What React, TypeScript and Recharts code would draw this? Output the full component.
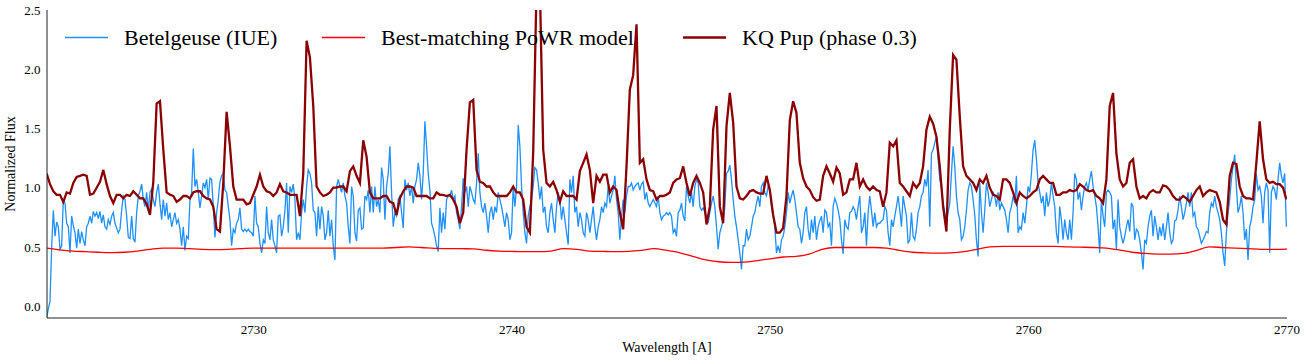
import React from 'react';
import { LineChart, Line, XAxis, YAxis } from 'recharts';

// ---------------- data ----------------
const SERIES_NAMES = ['Betelgeuse (IUE)', 'Best-matching PoWR model', 'KQ Pup (phase 0.3)'];

// Betelgeuse (IUE) spectrum: evenly sampled wavelength grid
const BETELGEUSE_START = 2721.987;
const BETELGEUSE_STEP = 0.0645;
const betelgeuseFlux = [
  -0.1, -0.02, 0.04, 0.5, 0.81, 0.59, 0.71, 0.67, 0.48, 0.51,
  0.9, 0.87, 0.7, 0.67, 0.45, 0.76, 0.68, 0.62, 0.49, 0.65,
  0.53, 0.63, 0.56, 0.51, 0.67, 0.7, 0.76, 0.7, 0.8, 0.76,
  0.79, 0.74, 0.8, 0.7, 0.77, 0.67, 0.65, 0.73, 0.69, 0.76,
  0.79, 0.7, 0.66, 0.62, 0.65, 0.81, 0.93, 0.9, 0.76, 0.58,
  0.57, 0.76, 0.57, 0.54, 0.79, 0.93, 0.97, 1.03, 0.9, 0.84,
  0.96, 0.81, 0.96, 0.99, 0.9, 0.84, 0.96, 1.03, 0.87, 0.73,
  0.9, 0.76, 0.87, 0.73, 0.79, 0.67, 0.73, 0.79, 0.7, 0.73,
  0.65, 0.51, 0.67, 0.47, 0.59, 0.57, 0.9, 0.96, 1.33, 1.01,
  1.07, 0.96,
  0.83, 0.93, 1.04, 1.0, 1.07, 0.9, 1.08, 1.07, 0.84, 0.58,
  0.79, 0.9, 1.05, 1.1, 1.12, 0.98, 0.96, 0.84, 0.73, 0.51,
  0.65, 0.62, 0.7, 0.73, 0.83, 0.65, 0.63, 0.65, 0.63, 0.65,
  0.63, 0.62, 0.59, 0.93, 0.7, 0.67, 0.53, 0.45, 0.56, 0.53,
  0.84, 0.62, 0.56, 0.73, 0.56, 0.51, 0.45, 0.76, 0.77, 0.59,
  0.67, 0.81, 1.04, 0.62, 1.01, 0.96, 1.03, 0.9, 0.56, 0.62,
  0.56, 0.79, 0.9, 0.79, 1.01, 1.15, 1.12, 1.04, 0.81, 0.79,
  0.59, 0.84, 0.65, 0.84, 0.76, 0.56, 0.62, 0.81, 0.59, 0.73,
  0.51, 0.39, 1.01, 1.07, 1.01, 0.96, 1.04, 0.93, 0.87, 0.67,
  0.53, 1.01, 0.93,
  0.62, 0.55, 0.81, 0.83, 0.65, 0.66, 0.93, 0.9, 0.98, 0.79,
  1.01, 0.79, 1.01, 0.84, 0.9, 0.79, 1.17, 1.07, 0.73, 1.01,
  1.12, 1.35, 0.96, 0.67, 0.79, 0.76, 0.9, 0.93, 0.79, 0.66,
  1.07, 0.98, 1.04, 0.93, 1.01, 0.87, 1.01, 1.07, 1.21, 1.1,
  0.9, 1.12, 1.56, 1.35, 1.12, 0.98, 0.7, 0.65, 0.59, 0.51,
  0.46, 0.83, 0.62, 0.79, 0.65, 0.9, 0.93, 0.93, 0.98, 0.9,
  0.93, 0.79, 0.73, 0.65, 0.84, 1.08, 0.96, 1.01, 0.84, 1.01,
  0.96, 0.9, 0.87, 1.04, 1.29, 0.96, 0.84, 0.79, 0.87, 0.76,
  0.62, 0.79, 0.84, 0.73, 0.84, 0.79, 0.96, 0.9, 0.84, 0.76,
  0.67, 0.79, 0.73,
  0.56, 0.62, 1.01, 0.84, 1.01, 1.53, 1.35, 1.01, 0.79, 0.62,
  0.53, 0.76, 0.84, 0.9, 1.01, 1.17, 1.15, 1.04, 0.9, 1.01,
  0.79, 0.84, 0.67, 0.62, 0.79, 0.87, 0.73, 0.62, 0.84, 0.96,
  0.9, 0.73, 0.84, 0.73, 0.62, 0.52, 1.07, 0.96, 1.1, 0.79,
  0.84, 0.67, 0.79, 0.73, 0.62, 0.59, 0.79, 0.73, 0.62, 0.73,
  0.84, 0.67, 0.56, 0.67, 0.73, 0.84, 0.79, 0.87, 0.84, 1.01,
  0.87, 0.93, 0.98, 1.1, 0.9, 0.79, 0.56, 0.76, 0.9, 0.79,
  0.93, 1.01, 1.01, 1.04, 0.98, 1.01, 1.03, 1.04, 0.98, 1.03,
  1.05, 0.9, 0.96, 0.87, 0.84, 0.87, 0.9, 0.87, 0.84, 0.93,
  0.79, 0.73, 0.76,
  0.77, 0.79, 0.77, 0.79, 0.76, 0.62, 0.65, 0.59, 0.79, 0.81,
  0.87, 0.76, 0.72, 1.01, 0.93, 0.87, 0.96, 0.84, 1.01, 1.07,
  1.04, 0.84, 0.81, 0.83, 0.79, 0.76, 0.7, 0.79, 0.87, 0.93,
  0.84, 0.67, 0.48, 0.62, 0.67, 0.73, 0.84, 1.12, 1.14, 1.19,
  1.07, 0.9, 0.76, 0.67, 0.56, 0.45, 0.31, 0.51, 0.51, 0.65,
  0.56, 0.59, 0.67, 0.76, 0.79, 0.87, 0.93, 0.84, 1.01, 1.04,
  0.96, 0.93, 1.01, 0.98, 0.84, 0.76, 0.67, 0.45, 0.51, 0.45,
  0.56, 0.59, 0.67, 0.79, 0.96, 0.87, 0.93, 0.98, 0.9, 0.79,
  0.67, 0.65, 0.53, 0.62, 0.79, 0.84, 0.65, 0.56, 0.73, 0.62,
  0.76, 0.56, 0.67,
  0.72, 0.76, 0.62, 0.81, 0.79, 0.67, 0.7, 0.51, 0.84, 0.91,
  0.87, 0.81, 0.73, 0.56, 0.44, 0.73, 0.67, 0.65, 0.79, 0.8,
  0.84, 0.81, 0.73, 0.84, 0.93, 0.62, 0.67, 0.79, 0.51, 0.79,
  0.93, 0.81, 0.67, 0.79, 0.67, 0.7, 0.7, 0.72, 0.73, 0.84,
  0.81, 0.62, 0.51, 0.73, 0.67, 0.76, 0.84, 0.93, 0.81, 0.67,
  0.93, 0.84, 0.76, 0.53, 0.56, 0.79, 0.59, 0.56, 0.65, 0.79,
  0.84, 0.93, 0.96, 1.07, 1.01, 1.15, 0.67, 1.29, 1.32, 1.38,
  1.43, 1.24, 1.07, 1.01, 0.87, 0.79, 0.7, 0.79, 0.87, 1.12,
  1.35, 1.18, 0.93, 0.79, 0.73, 0.56, 0.59, 0.67, 0.81, 0.98,
  1.04, 1.01, 0.9,
  0.77, 0.56, 0.42, 1.04, 0.79, 0.62, 0.81, 1.04, 0.96, 0.84,
  0.9, 0.96, 0.93, 0.84, 0.96, 0.81, 0.87, 0.84, 0.81, 0.73,
  0.62, 0.79, 0.84, 0.93, 0.87, 1.1, 0.62, 0.67, 0.65, 0.79,
  0.7, 0.84, 1.01, 0.96, 1.12, 1.32, 1.4, 1.24, 1.04, 0.96,
  0.87, 0.93, 0.76, 0.96, 0.84, 0.9, 1.04, 0.93, 0.84, 0.62,
  0.53, 0.84, 0.73, 0.56, 0.73, 0.62, 0.56, 0.73, 0.56, 0.79,
  1.12, 1.07, 0.9, 0.96, 0.81, 0.93, 1.01, 1.04, 0.98, 1.07,
  1.14, 1.01, 0.93, 0.84, 0.67, 0.45, 0.9, 0.76, 0.67, 0.96,
  0.98, 0.96, 0.93, 0.65, 0.73, 0.48, 0.9, 0.67, 0.59, 0.53,
  0.59, 0.67, 0.73,
  0.63, 0.87, 0.84, 0.56, 0.65, 0.63, 0.56, 0.45, 0.31, 0.56,
  0.53, 0.67, 0.76, 0.81, 0.59, 0.76, 0.67, 0.56, 0.67, 0.59,
  0.7, 0.56, 0.67, 0.79, 0.62, 0.53, 0.56, 0.72, 0.73, 0.81,
  0.93, 0.84, 0.73, 0.79, 0.87, 0.96, 0.84, 0.96, 0.76, 0.79,
  0.67, 0.65, 0.59, 0.53, 0.56, 0.59, 0.63, 0.62, 0.79, 0.87,
  0.84, 0.93, 0.84, 0.79, 0.73, 0.62, 0.45, 0.34, 0.62, 0.79,
  0.9, 1.07, 1.18, 1.28, 1.01, 0.79, 0.84, 0.93, 0.79, 0.56,
  0.65, 0.39, 0.67, 0.73, 0.84, 0.9, 1.12, 0.98, 1.01, 0.93,
  0.7, 0.96, 1.04, 0.98, 0.45, 0.96, 1.01, 0.98, 0.9, 1.07,
  1.21, 1.1, 1.04, 1.12, 0.67,
];

// Best-matching PoWR model (smooth), every 0.5 A
const MODEL_START = 2722.0;
const MODEL_STEP = 0.5;
const modelFlux = [
  0.49, 0.475, 0.465, 0.46, 0.455, 0.452, 0.455, 0.465, 0.48, 0.49,
  0.49, 0.485, 0.48, 0.478, 0.48, 0.485, 0.49, 0.49, 0.49, 0.49,
  0.49, 0.49, 0.49, 0.49, 0.49, 0.49, 0.49, 0.495, 0.5, 0.495,
  0.488, 0.486, 0.485, 0.484, 0.472, 0.465, 0.462, 0.46, 0.46, 0.465,
  0.485, 0.48, 0.465, 0.462, 0.46, 0.462, 0.47, 0.485, 0.47, 0.45,
  0.42, 0.39, 0.375, 0.37, 0.372, 0.385, 0.4, 0.415, 0.42, 0.44,
  0.48, 0.495, 0.495, 0.495, 0.495, 0.49, 0.47, 0.455, 0.45, 0.448,
  0.45, 0.46, 0.48, 0.5, 0.505, 0.505, 0.505, 0.505, 0.505, 0.5,
  0.498, 0.495, 0.49, 0.475, 0.455, 0.445, 0.44, 0.44, 0.445, 0.47,
  0.5, 0.495, 0.49, 0.485, 0.48, 0.48, 0.482,
];

// KQ Pup (phase 0.3)
const KQPUP_START = 2721.987;
const KQPUP_STEP = 0.129;
const kqPupFlux = [
  1.12, 1.03, 0.97, 0.94, 0.94, 0.88, 0.96, 0.95, 1.04, 1.09,
  1.1, 1.11, 1.1, 0.94, 0.95, 1.0, 1.05, 1.15, 1.03, 0.93,
  0.87, 0.94, 0.94, 0.91, 0.94, 0.93, 0.97, 0.94, 0.91, 0.91,
  0.86, 0.77, 1.05, 1.71, 1.73, 1.32, 0.96, 0.94, 0.93, 0.88,
  0.9, 0.93, 0.93, 0.91, 0.96, 0.97,
  0.97, 0.93, 0.91, 0.9, 0.84, 0.65, 0.63, 1.04, 1.64, 1.35,
  1.01, 0.9, 0.9, 0.9, 0.86, 0.87, 0.94, 1.01, 1.11, 1.01,
  0.97, 0.96, 0.93, 0.96, 1.03, 0.97, 0.96, 0.94, 0.94, 0.94,
  0.76, 1.12, 2.24, 2.1, 1.69, 1.01, 0.96, 0.93, 0.94, 0.96,
  1.0, 1.0, 1.01, 1.01, 0.97, 1.14, 1.18,
  1.1, 1.04, 1.4, 1.26, 0.96, 0.91, 0.91, 0.91, 0.93, 0.93,
  0.88, 0.87, 0.77, 0.91, 0.97, 1.01, 1.01, 1.0, 0.93, 0.93,
  0.93, 0.93, 0.91, 0.91, 0.96, 0.94, 0.94, 0.93, 0.94, 0.9,
  0.84, 0.7, 0.79, 1.32, 1.72, 1.74, 1.15, 1.05, 1.04, 1.01,
  1.01, 0.96, 0.93, 0.93, 0.93, 0.93,
  0.96, 1.01, 0.96, 0.96, 0.9, 0.67, 0.62, 1.3, 2.7, 2.7,
  1.32, 1.04, 1.01, 1.05, 0.98, 0.88, 0.97, 0.93, 0.93, 0.93,
  0.9, 1.14, 1.21, 1.28, 1.15, 0.87, 1.1, 1.05, 1.11, 1.11,
  0.96, 1.01, 0.98, 0.79, 0.65, 1.18, 1.83, 1.95, 2.38, 1.21,
  1.24, 1.07, 0.98, 0.97, 0.9, 0.93, 0.93,
  0.94, 0.96, 1.04, 1.07, 1.08, 1.18, 1.04, 0.93, 1.04, 1.1,
  1.04, 0.96, 0.69, 0.84, 1.49, 1.69, 0.84, 0.7, 1.52, 1.8,
  1.55, 1.01, 0.91, 0.9, 0.93, 0.97, 0.98, 0.96, 0.95, 0.95,
  1.1, 0.98, 0.77, 0.62, 0.62, 0.66, 0.93, 1.57, 1.73, 1.63,
  1.21, 1.08, 1.01, 0.98, 0.92, 0.89,
  0.9, 1.1, 1.18, 1.12, 1.05, 1.17, 1.12, 0.94, 0.96, 1.07,
  1.07, 1.21, 1.01, 1.07, 1.01, 0.98, 1.01, 0.98, 0.97, 0.84,
  0.96, 1.38, 1.35, 1.4, 1.04, 1.01, 0.97, 0.93, 1.04, 1.0,
  1.04, 1.18, 1.49, 1.6, 1.54, 1.43, 1.18, 0.84, 0.63, 1.49,
  2.12, 2.08, 1.6, 1.18, 1.1, 1.07, 1.04,
  0.98, 1.07, 1.04, 1.1, 1.0, 0.94, 0.93, 0.9, 1.07, 1.07,
  1.04, 0.96, 0.87, 0.96, 0.93, 0.91, 0.93, 0.96, 0.98, 1.07,
  1.1, 1.07, 1.04, 1.04, 0.94, 0.94, 0.96, 0.96, 0.98, 0.97,
  0.98, 1.03, 1.01, 0.98, 0.97, 0.98, 0.93, 0.91, 0.87, 1.07,
  1.69, 1.8, 1.29, 1.07, 1.01, 1.04,
  1.21, 1.24, 1.01, 0.91, 0.93, 0.91, 0.96, 0.98, 0.96, 0.96,
  1.02, 1.01, 0.98, 0.93, 0.9, 0.9, 0.93, 0.91, 0.88, 0.93,
  0.98, 1.01, 0.93, 0.96, 0.98, 0.97, 0.96, 0.88, 0.73, 0.69,
  1.1, 1.21, 1.2, 1.01, 0.93, 0.91, 0.91, 0.9, 1.21, 1.56,
  1.24, 1.07, 1.04, 1.05, 1.03, 1.03, 1.0, 0.9,
];

const X_DOMAIN = [2722, 2770];
const Y_DOMAIN = [-0.1, 2.5];
const X_MAJOR_TICKS = [2730, 2740, 2750, 2760, 2770];
const X_MINOR_TICKS = [
  2722, 2724, 2726, 2728, 2730, 2732, 2734, 2736, 2738, 2740, 2742, 2744, 2746,
  2748, 2750, 2752, 2754, 2756, 2758, 2760, 2762, 2764, 2766, 2768, 2770,
];
const Y_MAJOR_TICKS = [0, 0.5, 1, 1.5, 2, 2.5];
const Y_MINOR_TICKS = [
  -0.1, 0, 0.1, 0.2, 0.3, 0.4, 0.5, 0.6, 0.7, 0.8, 0.9, 1.0, 1.1, 1.2, 1.3,
  1.4, 1.5, 1.6, 1.7, 1.8, 1.9, 2.0, 2.1, 2.2, 2.3, 2.4, 2.5,
];

// ---------------- build tables ----------------
const toPoints = (start: number, step: number, values: number[]) =>
  values.map((y, i) => ({ x: Math.round((start + i * step) * 10000) / 10000, y }));

const betelgeuseData = toPoints(BETELGEUSE_START, BETELGEUSE_STEP, betelgeuseFlux);
const modelData = toPoints(MODEL_START, MODEL_STEP, modelFlux);
const kqPupData = toPoints(KQPUP_START, KQPUP_STEP, kqPupFlux);

// ---------------- styling ----------------
const W = 1306;
const H = 361;
const FONT = 'Liberation Serif, Times New Roman, serif';
const FRAME = '#222';
const COLORS = ['#1e90ff', '#ff0000', '#8b0000'];
const WIDTHS = [1.3, 1.3, 2.3];
const LEGEND_X = [65, 322, 683];

const tickFont = { fontSize: 13, fill: '#000', style: { fontFamily: FONT } };
const serifStyle = { fontFamily: FONT };

export default function App() {
  return (
    <div style={{ position: 'absolute', left: 0, top: 0, width: W, height: H, background: '#fff', fontFamily: FONT }}>
      <LineChart width={W} height={H} margin={{ top: 10, right: 19, bottom: 0, left: 0 }} style={serifStyle}>
        {/* labelled axes */}
        <XAxis
          xAxisId="main"
          type="number"
          dataKey="x"
          domain={X_DOMAIN}
          allowDataOverflow
          ticks={X_MAJOR_TICKS}
          interval={0}
          height={43}
          tickSize={0}
          tickMargin={6.5}
          tickLine={false}
          axisLine={{ stroke: FRAME, strokeWidth: 1 }}
          tick={tickFont}
        />
        <YAxis
          yAxisId="main"
          type="number"
          domain={Y_DOMAIN}
          allowDataOverflow
          ticks={Y_MAJOR_TICKS}
          interval={0}
          width={47}
          tickSize={0}
          tickMargin={6.5}
          tickLine={false}
          axisLine={{ stroke: FRAME, strokeWidth: 1 }}
          tick={tickFont}
          tickFormatter={(v: number) => v.toFixed(1)}
        />
        {/* inward tick marks (mirrored axes) */}
        <XAxis xAxisId="bMaj" type="number" orientation="bottom" mirror height={0} domain={X_DOMAIN} allowDataOverflow ticks={X_MAJOR_TICKS} interval={0} tickSize={4.5} tick={false} axisLine={false} tickLine={{ stroke: FRAME }} />
        <XAxis xAxisId="bMin" type="number" orientation="bottom" mirror height={0} domain={X_DOMAIN} allowDataOverflow ticks={X_MINOR_TICKS} interval={0} tickSize={2.7} tick={false} axisLine={false} tickLine={{ stroke: FRAME }} />
        <XAxis xAxisId="tMaj" type="number" orientation="top" mirror height={0} domain={X_DOMAIN} allowDataOverflow ticks={X_MAJOR_TICKS} interval={0} tickSize={4.5} tick={false} axisLine={{ stroke: FRAME, strokeWidth: 1 }} tickLine={{ stroke: FRAME }} />
        <XAxis xAxisId="tMin" type="number" orientation="top" mirror height={0} domain={X_DOMAIN} allowDataOverflow ticks={X_MINOR_TICKS} interval={0} tickSize={2.7} tick={false} axisLine={false} tickLine={{ stroke: FRAME }} />
        <YAxis yAxisId="lMaj" type="number" orientation="left" mirror width={0} domain={Y_DOMAIN} allowDataOverflow ticks={Y_MAJOR_TICKS} interval={0} tickSize={4.5} tick={false} axisLine={false} tickLine={{ stroke: FRAME }} />
        <YAxis yAxisId="lMin" type="number" orientation="left" mirror width={0} domain={Y_DOMAIN} allowDataOverflow ticks={Y_MINOR_TICKS} interval={0} tickSize={2.7} tick={false} axisLine={false} tickLine={{ stroke: FRAME }} />
        <YAxis yAxisId="rMaj" type="number" orientation="right" mirror width={0} domain={Y_DOMAIN} allowDataOverflow ticks={Y_MAJOR_TICKS} interval={0} tickSize={4.5} tick={false} axisLine={{ stroke: FRAME, strokeWidth: 1 }} tickLine={{ stroke: FRAME }} />
        <YAxis yAxisId="rMin" type="number" orientation="right" mirror width={0} domain={Y_DOMAIN} allowDataOverflow ticks={Y_MINOR_TICKS} interval={0} tickSize={2.7} tick={false} axisLine={false} tickLine={{ stroke: FRAME }} />

        <Line
          xAxisId="main"
          yAxisId="main"
          data={betelgeuseData}
          dataKey="y"
          name={SERIES_NAMES[0]}
          type="linear"
          stroke={COLORS[0]}
          strokeWidth={WIDTHS[0]}
          dot={false}
          activeDot={false}
          isAnimationActive={false}
        />
        <Line
          xAxisId="main"
          yAxisId="main"
          data={modelData}
          dataKey="y"
          name={SERIES_NAMES[1]}
          type="monotone"
          stroke={COLORS[1]}
          strokeWidth={WIDTHS[1]}
          dot={false}
          activeDot={false}
          isAnimationActive={false}
        />
        <Line
          xAxisId="main"
          yAxisId="main"
          data={kqPupData}
          dataKey="y"
          name={SERIES_NAMES[2]}
          type="linear"
          stroke={COLORS[2]}
          strokeWidth={WIDTHS[2]}
          dot={false}
          activeDot={false}
          isAnimationActive={false}
        />
      </LineChart>
      <svg width={W} height={H} style={{ position: 'absolute', left: 0, top: 0, pointerEvents: 'none', fontFamily: FONT }}>
        {SERIES_NAMES.map((name, i) => (
          <g key={name}>
            <line x1={LEGEND_X[i]} x2={LEGEND_X[i] + 43} y1={37.5} y2={37.5} stroke={COLORS[i]} strokeWidth={WIDTHS[i]} />
            <text x={LEGEND_X[i] + 59} y={44.5} fontSize={22} style={serifStyle} fill="#000">
              {name}
            </text>
          </g>
        ))}
        <text x={667} y={352} textAnchor="middle" fontSize={14} style={serifStyle} fill="#000">
          Wavelength [A]
        </text>
        <text transform="translate(15,164) rotate(-90)" textAnchor="middle" fontSize={14} style={serifStyle} fill="#000">
          Normalized Flux
        </text>
      </svg>
    </div>
  );
}
